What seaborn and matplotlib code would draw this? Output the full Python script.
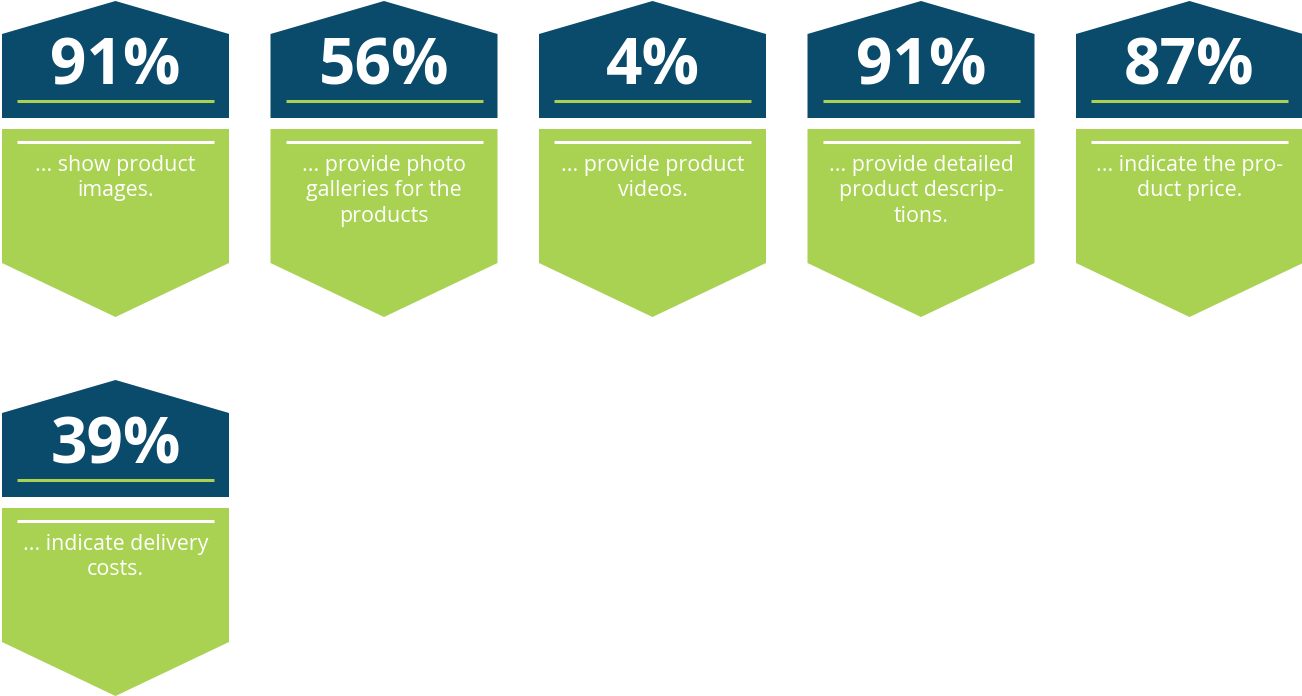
import matplotlib
matplotlib.use("Agg")
import matplotlib.pyplot as plt
from matplotlib.patches import Polygon
import seaborn as sns

sns.set_theme(style="white")
plt.rcParams['font.family'] = ['Open Sans', 'DejaVu Sans']

values = [91, 56, 4, 91, 87, 39]
labels = [
    "... show product\nimages.",
    "... provide photo\ngalleries for the\nproducts",
    "... provide product\nvideos.",
    "... provide detailed\nproduct descrip-\ntions.",
    "... indicate the pro-\nduct price.",
    "... indicate delivery\ncosts.",
]

DARK = "#0a4a6a"
GREEN = "#a9d152"

W, H = 1302, 696
fig = plt.figure(figsize=(W / 100, H / 100), dpi=100)
ax = fig.add_axes([0, 0, 1, 1])
ax.set_xlim(0, W)
ax.set_ylim(H, 0)
ax.axis("off")

ncols = 5
pitch_x = 268.5
pitch_y = 379
card_w = 227

for i, (v, lab) in enumerate(zip(values, labels)):
    r, c = divmod(i, ncols)
    x0 = 2 + c * pitch_x
    y0 = 1 + r * pitch_y
    x1 = x0 + card_w
    xm = (x0 + x1) / 2
    # dark header pentagon
    ax.add_patch(Polygon([(x0, y0 + 33), (xm, y0), (x1, y0 + 33), (x1, y0 + 117), (x0, y0 + 117)],
                         closed=True, facecolor=DARK, edgecolor="none"))
    ax.plot([x0 + 15, x1 - 15], [y0 + 100, y0 + 100], color=GREEN, lw=2.2, solid_capstyle="butt")
    ax.text(xm, y0 + 67, f"{v}%", color="white", fontsize=46, fontweight="bold",
            ha="center", va="center")
    # green body with arrow bottom
    ax.add_patch(Polygon([(x0, y0 + 128), (x1, y0 + 128), (x1, y0 + 262), (xm, y0 + 316), (x0, y0 + 262)],
                         closed=True, facecolor=GREEN, edgecolor="none"))
    ax.plot([x0 + 15, x1 - 15], [y0 + 141, y0 + 141], color="white", lw=2.2, solid_capstyle="butt")
    ax.text(xm, y0 + 154, lab, color="white", fontsize=15.4, ha="center", va="top",
            linespacing=1.27)

fig.savefig("out.png", dpi=100, facecolor="white")
